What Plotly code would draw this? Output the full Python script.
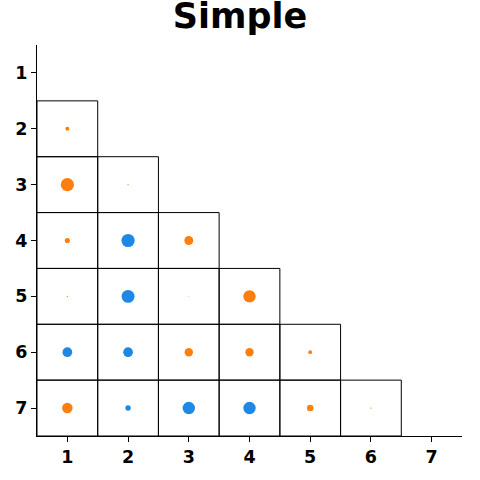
import plotly.graph_objects as go

# Matrix labels
labels = [1, 2, 3, 4, 5, 6, 7]

# Lower-triangle cells: (column, row, signed value); positive -> blue, negative -> orange
cols = [1, 1, 2, 1, 2, 3, 1, 2, 3, 4, 1, 2, 3, 4, 5, 1, 2, 3, 4, 5, 6]
rows = [2, 3, 3, 4, 4, 4, 5, 5, 5, 5, 6, 6, 6, 6, 6, 7, 7, 7, 7, 7, 7]
values = [-0.30, -0.98, -0.08, -0.38, 0.98, -0.66, -0.10, 0.96, -0.07, -0.92,
          0.72, 0.72, -0.62, -0.62, -0.28, -0.78, 0.40, 0.92, 0.92, -0.48, -0.10]

MAX_SIZE = 13.5
POS_COLOR = "#1e88e5"
NEG_COLOR = "#ff7f0e"

sizes = [abs(v) * MAX_SIZE for v in values]
colors = [POS_COLOR if v > 0 else NEG_COLOR for v in values]

fig = go.Figure()

# cell borders
shapes = []
for c, r in zip(cols, rows):
    shapes.append(dict(type="rect", xref="x", yref="y",
                       x0=c - 0.5, x1=c + 0.5, y0=r - 0.5, y1=r + 0.5,
                       line=dict(color="black", width=1), fillcolor="rgba(0,0,0,0)",
                       layer="below"))

fig.add_trace(go.Scatter(
    x=cols, y=rows, mode="markers",
    marker=dict(size=sizes, color=colors, line=dict(width=0), opacity=1),
    hoverinfo="skip", showlegend=False,
))

font_family = "DejaVu Sans, sans-serif"
fig.update_layout(
    width=480, height=480,
    margin=dict(l=37, r=18, t=45, b=44),
    paper_bgcolor="white", plot_bgcolor="white",
    shapes=shapes,
    title=dict(text="<b>Simple</b>", x=0.5, xanchor="center", y=0.993, yanchor="top",
               font=dict(family=font_family, size=35, color="black")),
    xaxis=dict(range=[0.5, 7.5], tickvals=labels, ticktext=[f"<b>{l}</b>" for l in labels],
               showgrid=False, zeroline=False, showline=True, linecolor="black", linewidth=1,
               ticks="outside", ticklen=5, tickcolor="black", tickwidth=1,
               tickfont=dict(family=font_family, size=17.5, color="black")),
    yaxis=dict(range=[7.5, 0.5], tickvals=labels, ticktext=[f"<b>{l}</b>" for l in labels],
               showgrid=False, zeroline=False, showline=True, linecolor="black", linewidth=1,
               ticks="outside", ticklen=5, tickcolor="black", tickwidth=1,
               tickfont=dict(family=font_family, size=17.5, color="black")),
)

fig.write_html("out.html")
